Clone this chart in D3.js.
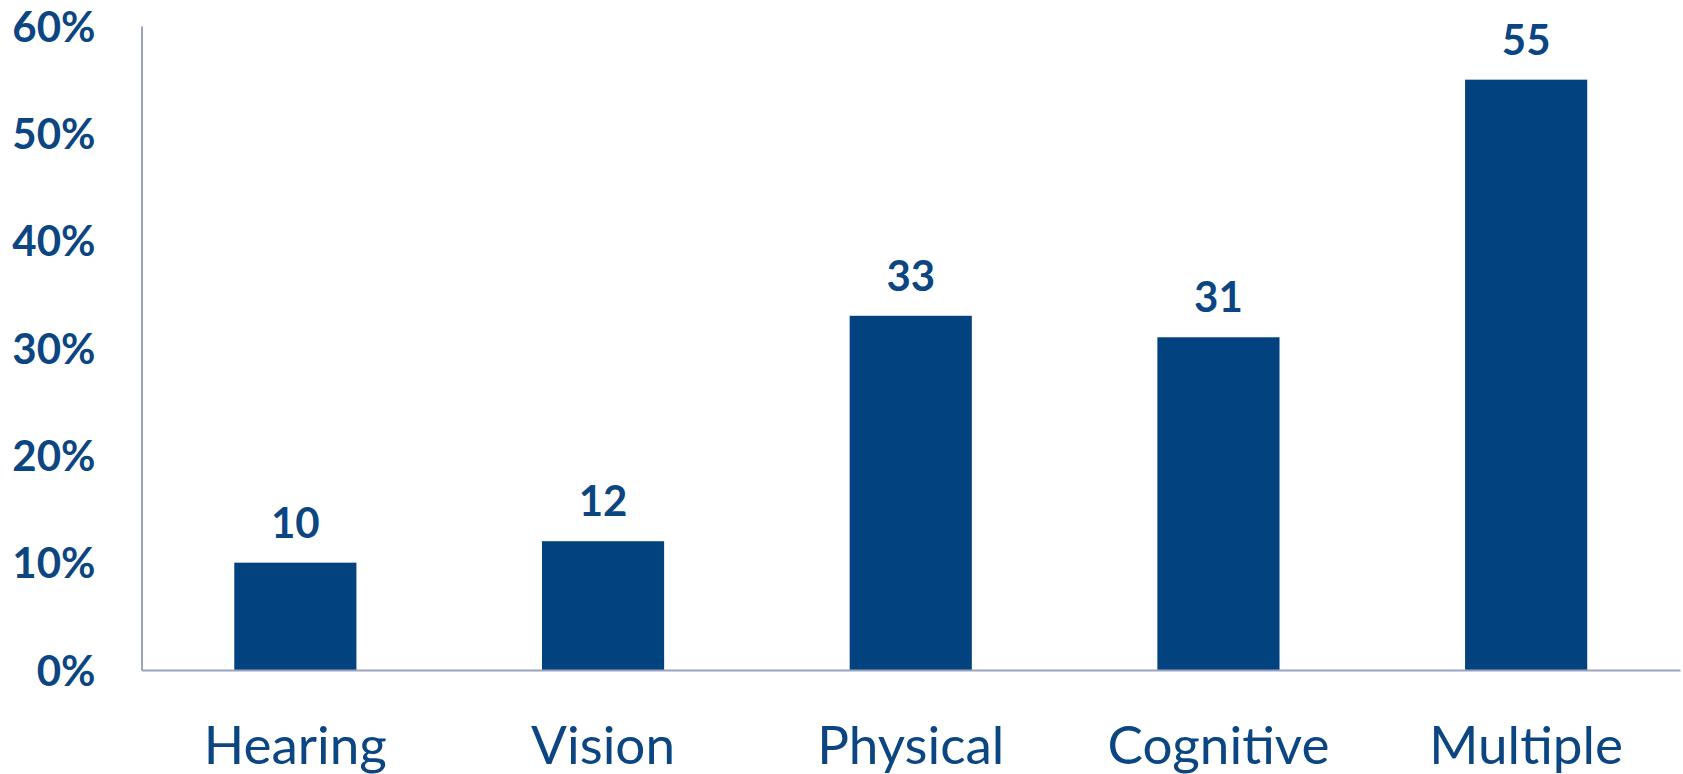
<!DOCTYPE html>
<html>
<head>
<meta charset="utf-8">
<script src="https://cdn.jsdelivr.net/npm/d3@7"></script>
<style>
  html, body { margin: 0; padding: 0; background: #ffffff; }
  svg { display: block; }
</style>
</head>
<body>
<svg id="chart" width="1683" height="774"></svg>
<script>
// Share of people by disability type (%)
const categories = ["Hearing", "Vision", "Physical", "Cognitive", "Multiple"];
const values = [10, 12, 33, 31, 55];
const tickValues = [0, 10, 20, 30, 40, 50, 60];

const W = 1683, H = 774;
const margin = { left: 141.5, right: 3, top: 26, bottom: 104 };
const barColor = "#02437F";
const textColor = "#0B4682";
const axisColor = "#9BA3BE";
const font = "Lato, 'Open Sans', sans-serif";

const svg = d3.select("#chart");

const x = d3.scaleBand()
  .domain(categories)
  .range([margin.left, W - margin.right])
  .paddingInner(0.603)
  .paddingOuter(0.3015);

const y = d3.scaleLinear()
  .domain([0, 60])
  .range([H - margin.bottom, margin.top]);

// Bars
svg.append("g")
  .selectAll("rect")
  .data(categories)
  .join("rect")
  .attr("x", d => x(d))
  .attr("width", x.bandwidth())
  .attr("y", (d, i) => y(values[i]))
  .attr("height", (d, i) => y(0) - y(values[i]))
  .attr("fill", barColor);

// Value labels above bars
svg.append("g")
  .selectAll("text")
  .data(categories)
  .join("text")
  .attr("x", d => x(d) + x.bandwidth() / 2)
  .attr("y", (d, i) => y(values[i]) - 25)
  .attr("text-anchor", "middle")
  .attr("font-family", font)
  .attr("font-weight", 700)
  .attr("font-size", 42)
  .attr("fill", textColor)
  .text((d, i) => values[i]);

// Y axis
const yAxis = svg.append("g")
  .attr("transform", `translate(${margin.left},0)`)
  .call(d3.axisLeft(y).tickValues(tickValues).tickSize(0).tickPadding(46).tickFormat(d => d + "%"));
yAxis.select(".domain").attr("stroke", axisColor).attr("stroke-width", 2);
yAxis.selectAll("text")
  .attr("font-family", font)
  .attr("font-weight", 700)
  .attr("font-size", 42)
  .attr("fill", textColor)
  .attr("dy", "0.36em");

// X axis
const xAxis = svg.append("g")
  .attr("transform", `translate(0,${y(0)})`)
  .call(d3.axisBottom(x).tickSize(0).tickPadding(56));
xAxis.select(".domain").attr("stroke", axisColor).attr("stroke-width", 2);
xAxis.selectAll("text")
  .attr("font-family", font)
  .attr("font-weight", 400)
  .attr("font-size", 53)
  .attr("fill", textColor);
</script>
</body>
</html>
